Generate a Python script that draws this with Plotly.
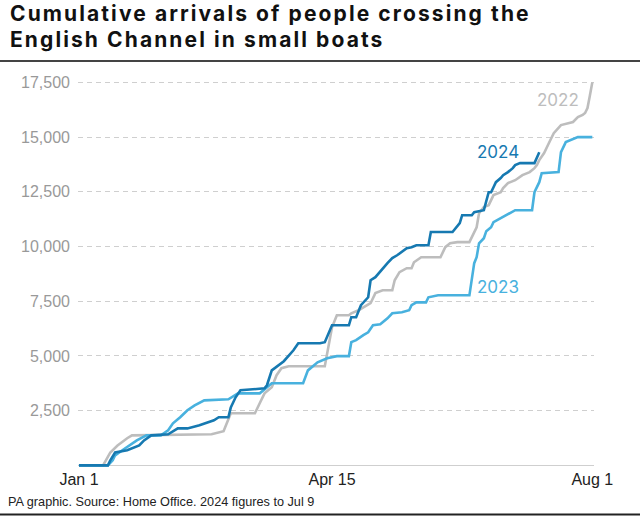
import plotly.graph_objects as go

# ---- data (days since Jan 1, cumulative arrivals) ----
days_2024 = [0, 12, 13, 15, 20, 25, 27, 30, 37, 39, 41, 45, 50, 56, 58, 62, 63, 65, 67, 77,
             78, 80, 85, 89, 91, 100, 102, 105, 112, 113, 115, 117, 120, 121, 123, 128, 130, 132, 136, 138,
             140, 145, 146, 155, 158, 159, 163, 164, 168, 170, 171, 172, 173, 175, 176, 178, 180, 181, 183, 189, 191]
vals_2024 = [0, 0, 230, 590, 690, 910, 1140, 1370, 1420, 1560, 1690, 1690, 1830, 2060, 2200, 2200, 2650, 3110, 3430, 3520,
             3660, 4340, 4760, 5260, 5580, 5580, 5630, 6400, 6400, 6770, 6770, 7320, 7680, 8460, 8600, 9240, 9470, 9600, 9920, 9970,
             10060, 10060, 10660, 10660, 11070, 11430, 11430, 11570, 11660, 12480, 12480, 12710, 12940, 13130, 13260, 13400, 13580, 13720, 13810, 13810, 14310]

days_2022 = [0, 10, 13, 16, 20, 22, 55, 60, 63, 73, 75, 77, 80, 82, 84, 87, 102, 105, 107, 112,
             113, 116, 121, 123, 126, 130, 131, 133, 136, 138, 139, 142, 150, 152, 154, 157, 162, 163, 165, 166,
             168, 170, 172, 175, 176, 178, 181, 184, 187, 189, 190, 191, 193, 195, 197, 200, 203, 205, 207, 209,
             210, 211, 212, 213]
vals_2022 = [0, 0, 590, 910, 1240, 1370, 1420, 1560, 2380, 2380, 2840, 3290, 3570, 4120, 4440, 4530, 4530, 6310, 6860, 6860,
             6950, 7090, 7410, 7870, 8000, 8000, 8460, 8830, 9010, 9010, 9280, 9510, 9510, 9970, 10150, 10200, 10200, 10430, 10880, 11520,
             11800, 11890, 12350, 12480, 12670, 12900, 13030, 13260, 13400, 13580, 13720, 13950, 14270, 14730, 15180, 15550, 15640, 15690, 15910, 16010,
             16100, 16330, 16900, 17500]

days_2023 = [0, 12, 14, 15, 18, 21, 24, 28, 34, 37, 39, 42, 45, 48, 52, 62, 66, 75, 78, 80,
             93, 95, 99, 103, 107, 112, 113, 115, 118, 120, 122, 125, 128, 130, 134, 137, 138, 140, 144, 145,
             149, 162, 164, 165, 166, 168, 169, 171, 172, 175, 179, 181, 188, 189, 191, 192, 199, 200, 202, 204,
             207, 213]
vals_2023 = [0, 0, 230, 460, 690, 910, 1140, 1370, 1370, 1600, 1920, 2200, 2520, 2740, 2970, 3020, 3290, 3290, 3570, 3750,
             3750, 4340, 4710, 4890, 4990, 4990, 5630, 5720, 5950, 6080, 6400, 6450, 6720, 6950, 7000, 7090, 7320, 7450, 7450, 7680,
             7770, 7770, 9240, 9510, 10150, 10380, 10700, 10880, 11110, 11300, 11520, 11660, 11660, 12480, 12940, 13350, 13400, 14310, 14770, 14860,
             15000, 15000]

tick_days = [0, 105, 213]
tick_text = ["Jan 1", "Apr 15", "Aug 1"]
y_ticks = [2500, 5000, 7500, 10000, 12500, 15000, 17500]

C2022 = "#bdbdbd"
C2023 = "#48b1de"
C2024 = "#1679b1"

W, H = 640, 516
L, R, T, B = 78, 46, 78, 48
pw, ph = W - L - R, H - T - B


def px(x):
    return (x - L) / pw


def py(y):
    return (H - B - y) / ph


fig = go.Figure()
for d, v, c in [(days_2022, vals_2022, C2022), (days_2023, vals_2023, C2023), (days_2024, vals_2024, C2024)]:
    fig.add_trace(go.Scatter(x=d, y=v, mode="lines", line=dict(color=c, width=2.6),
                             hoverinfo="skip", showlegend=False))

BODY = "Liberation Sans, Arial, sans-serif"
HEAD = "Inter, Liberation Sans, Arial, sans-serif"
TSPAN = '<span style="letter-spacing:2.1px"><b>{}</b></span>'

fig.update_layout(
    width=W, height=H,
    margin=dict(l=L, r=R, t=T, b=B),
    paper_bgcolor="white", plot_bgcolor="white",
    font=dict(family=BODY),
    xaxis=dict(range=[-0.4, 213.7], tickvals=tick_days, ticktext=tick_text,
               showgrid=False, zeroline=False, showline=False,
               tickfont=dict(size=16, color="#222222"), ticks="", fixedrange=True),
    yaxis=dict(range=[-120, 17700], tickvals=y_ticks, tickformat=",",
               showgrid=True, gridcolor="#cfcfcf", gridwidth=1, griddash="5px,4px",
               zeroline=True, zerolinecolor="#cfcfcf", zerolinewidth=1,
               showline=False, ticks="", ticklabelstandoff=7,
               tickfont=dict(size=16, color="#999999"), fixedrange=True),
    annotations=[
        dict(text=TSPAN.format("Cumulative arrivals of people crossing the"), xref="paper", yref="paper",
             x=px(9), y=py(0), xanchor="left", yanchor="top", showarrow=False, borderpad=0,
             font=dict(size=21, color="#111111", family=HEAD)),
        dict(text=TSPAN.format("English Channel in small boats"), xref="paper", yref="paper",
             x=px(9), y=py(25.8), xanchor="left", yanchor="top", showarrow=False, borderpad=0,
             font=dict(size=21, color="#111111", family=HEAD)),
        dict(text="PA graphic. Source: Home Office. 2024 figures to Jul 9", xref="paper", yref="paper",
             x=px(6), y=py(502), xanchor="left", yanchor="middle", showarrow=False,
             font=dict(size=12.7, color="#222222")),
        dict(text="2024", xref="paper", yref="paper", x=px(498), y=py(152), xanchor="center",
             yanchor="middle", showarrow=False, font=dict(size=17, color=C2024, family=HEAD)),
        dict(text="2022", xref="paper", yref="paper", x=px(558), y=py(100), xanchor="center",
             yanchor="middle", showarrow=False, font=dict(size=17, color=C2022, family=HEAD)),
        dict(text="2023", xref="paper", yref="paper", x=px(498), y=py(287), xanchor="center",
             yanchor="middle", showarrow=False, font=dict(size=17, color=C2023, family=HEAD)),
    ],
    shapes=[
        dict(type="line", xref="paper", yref="paper", x0=px(0), x1=px(W), y0=py(61), y1=py(61),
             line=dict(color="#444444", width=2)),
        dict(type="line", xref="paper", yref="paper", x0=px(0), x1=px(W), y0=py(514.5), y1=py(514.5),
             line=dict(color="#222222", width=2)),
    ],
)

fig.write_html("out.html", config={"displayModeBar": False},
               post_script="document.body.style.margin='0px';document.body.style.overflow='hidden';")
